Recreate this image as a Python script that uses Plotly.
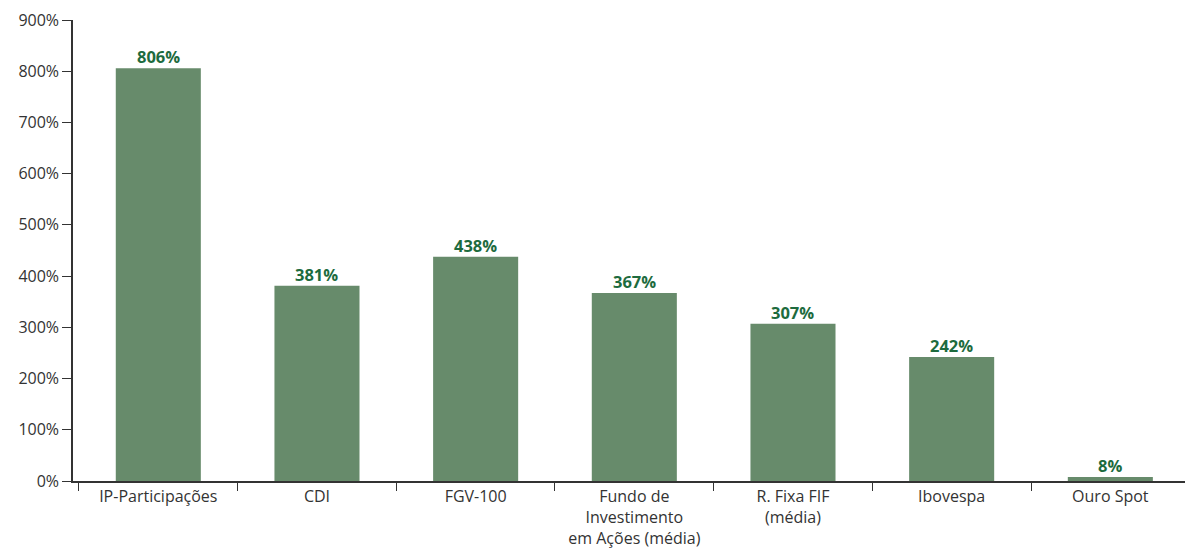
import plotly.graph_objects as go

categories = ["IP-Participações", "CDI", "FGV-100", "Fundo de<br>Investimento<br>em Ações (média)",
              "R. Fixa FIF<br>(média)", "Ibovespa", "Ouro Spot"]
values = [806, 381, 438, 367, 307, 242, 8]
labels = [f"{v}%" for v in values]
y_ticks = [0, 100, 200, 300, 400, 500, 600, 700, 800, 900]
y_tick_text = [f"{v}%" for v in y_ticks]

fig = go.Figure(go.Bar(
    x=categories, y=values,
    marker=dict(color="#678b6b", line=dict(width=0)),
    width=0.536,
))

for c, v, t in zip(categories, values, labels):
    fig.add_annotation(x=c, y=v, text=f"<b>{t}</b>", showarrow=False, yanchor="bottom",
                       xanchor="center", yshift=-2,
                       font=dict(family="Open Sans", size=16.5, color="#1d6b3e"))

fig.update_layout(
    width=1185, height=542,
    margin=dict(l=65, r=0, t=12, b=69, autoexpand=False),
    paper_bgcolor="white", plot_bgcolor="white",
    font=dict(family="Open Sans", size=16, color="#333333"),
    showlegend=False,
    xaxis=dict(range=[-0.5376, 6.521], showline=True, linecolor="#333333", linewidth=1.5,
               ticks="outside", tickson="boundaries", ticklen=8, tickcolor="#333333",
               showgrid=False, tickfont=dict(family="Open Sans", size=16, color="#333333"),
               automargin=False),
    yaxis=dict(range=[0, 900], tickmode="array", tickvals=y_ticks, ticktext=y_tick_text,
               showline=True, linecolor="#333333", linewidth=1.5, ticks="outside", ticklen=9,
               tickcolor="#333333", showgrid=False, zeroline=False,
               tickfont=dict(family="Open Sans", size=16, color="#333333"), automargin=False),
)

fig.write_html("out.html")
